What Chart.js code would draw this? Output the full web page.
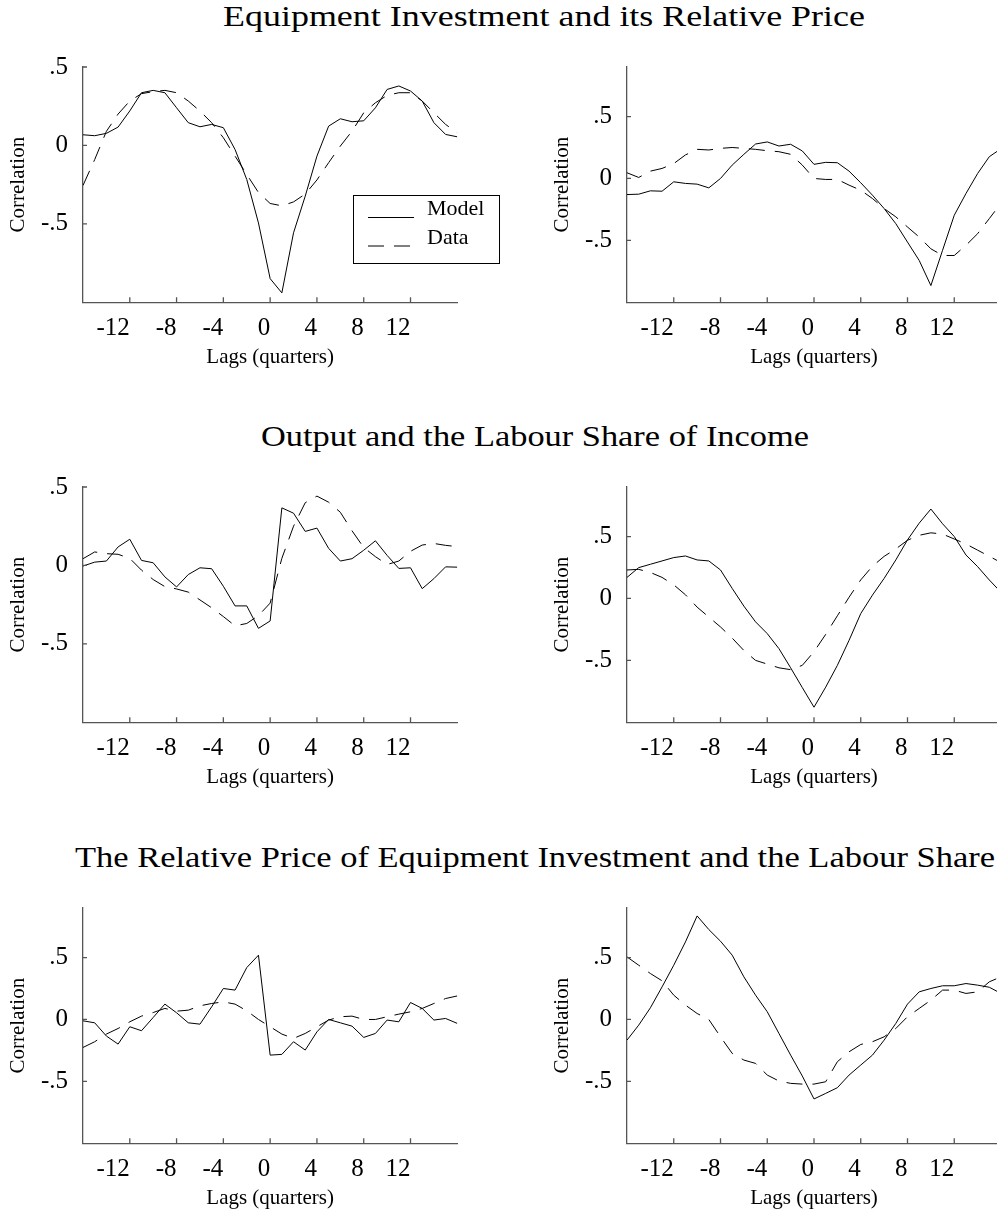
<!DOCTYPE html>
<html>
<head>
<meta charset="utf-8">
<script src="https://cdn.jsdelivr.net/npm/chart.js@4.4.1/dist/chart.umd.min.js"></script>
<style>
html, body { margin: 0; padding: 0; overflow: hidden; background: #fff; }
body { width: 997px; height: 1214px; position: relative; }
.rowtitle { position: absolute; font-family: "Liberation Serif", serif; font-size: 29px; line-height: 29px; white-space: nowrap; transform-origin: 0 0; color: #000; }
canvas { position: absolute; }
</style>
</head>
<body>

<div class="rowtitle" style="left:223px; top:2px" data-w="642">Equipment Investment and its Relative Price</div>
<div class="rowtitle" style="left:261px; top:422px" data-w="548">Output and the Labour Share of Income</div>
<div class="rowtitle" style="left:75px; top:843px" data-w="920">The Relative Price of Equipment Investment and the Labour Share</div>

<canvas id="c1" width="510" height="330" style="left:0; top:50px"></canvas>
<canvas id="c2" width="460" height="330" style="left:544px; top:50px"></canvas>
<canvas id="c3" width="510" height="330" style="left:0; top:470px"></canvas>
<canvas id="c4" width="460" height="330" style="left:544px; top:470px"></canvas>
<canvas id="c5" width="510" height="330" style="left:0; top:891px"></canvas>
<canvas id="c6" width="460" height="330" style="left:544px; top:891px"></canvas>

<script>
// lags in quarters, -16 .. 16
const lags = [-16, -15, -14, -13, -12, -11, -10, -9, -8, -7, -6, -5, -4, -3, -2, -1, 0,
  1, 2, 3, 4, 5, 6, 7, 8, 9, 10, 11, 12, 13, 14, 15, 16];
const xTicks = [-12, -8, -4, 0, 4, 8, 12];
const yTicks = [-0.5, 0, 0.5];
const seriesNames = ['Model', 'Data'];

// equipment investment and its relative price
const row1LeftModel = [0.068, 0.062, 0.077, 0.117, 0.22, 0.336, 0.351, 0.336, 0.24, 0.145, 0.119, 0.134, 0.113, -0.026, -0.217, -0.494,
  -0.849, -0.94, -0.557, -0.323, -0.068, 0.123, 0.17, 0.151, 0.157, 0.24, 0.357, 0.379, 0.347, 0.283, 0.145, 0.07, 0.055];
const row1LeftData = [-0.255, -0.09, 0.09, 0.2, 0.283, 0.33, 0.343, 0.351, 0.336, 0.283, 0.219, 0.145, 0.049, -0.068, -0.185, -0.3,
  -0.37, -0.385, -0.36, -0.31, -0.22, -0.11, -0.004, 0.091, 0.208, 0.272, 0.319, 0.336, 0.336, 0.283, 0.208, 0.134, 0.08];
const row1RightModel = [-0.13, -0.127, -0.1, -0.103, -0.027, -0.04, -0.046, -0.076, 0, 0.108, 0.195, 0.278, 0.295, 0.262, 0.276, 0.222,
  0.114, 0.13, 0.127, 0.059, -0.035, -0.135, -0.243, -0.365, -0.514, -0.662, -0.865, -0.58, -0.297, -0.122, 0.04, 0.176, 0.24];
const row1RightData = [0.046, 0.008, 0.059, 0.081, 0.12, 0.19, 0.235, 0.23, 0.243, 0.25, 0.243, 0.235, 0.224, 0.216, 0.195, 0.108,
  0, -0.008, -0.008, -0.054, -0.095, -0.162, -0.243, -0.31, -0.392, -0.473, -0.568, -0.622, -0.622, -0.54, -0.446, -0.324, -0.2];

// output and the labour share
const row2LeftModel = [-0.004, 0.021, 0.028, 0.118, 0.167, 0.032, 0.017, -0.073, -0.137, -0.058, -0.015, -0.021, -0.133, -0.258, -0.258, -0.401,
  -0.354, 0.367, 0.333, 0.217, 0.238, 0.109, 0.028, 0.043, 0.097, 0.157, 0.064, -0.019, -0.015, -0.148, -0.084, -0.009, -0.011];
const row2LeftData = [0.043, 0.086, 0.075, 0.071, 0.045, -0.03, -0.09, -0.135, -0.15, -0.17, -0.22, -0.27, -0.326, -0.385, -0.37, -0.32,
  -0.24, 0.045, 0.25, 0.4, 0.442, 0.403, 0.339, 0.221, 0.114, 0.056, 0.006, 0.028, 0.09, 0.13, 0.14, 0.128, 0.12];
const row2RightModel = [0.17, 0.249, 0.276, 0.303, 0.33, 0.343, 0.311, 0.303, 0.23, 0.081, -0.062, -0.189, -0.284, -0.405, -0.56, -0.72,
  -0.878, -0.716, -0.54, -0.338, -0.122, 0.027, 0.162, 0.311, 0.473, 0.608, 0.722, 0.603, 0.5, 0.351, 0.257, 0.149, 0.05];
const row2RightData = [0.23, 0.235, 0.21, 0.17, 0.11, 0.03, -0.07, -0.15, -0.23, -0.32, -0.42, -0.5, -0.53, -0.56, -0.575, -0.54,
  -0.43, -0.29, -0.14, 0.01, 0.15, 0.26, 0.34, 0.4, 0.47, 0.51, 0.53, 0.52, 0.48, 0.44, 0.39, 0.34, 0.29];

// relative price of equipment investment and the labour share
const row3LeftModel = [-0.011, -0.027, -0.134, -0.199, -0.059, -0.091, 0.016, 0.124, 0.054, -0.027, -0.038, 0.102, 0.25, 0.237, 0.419, 0.519,
  -0.288, -0.282, -0.18, -0.247, -0.1, 0, -0.027, -0.054, -0.145, -0.113, -0.005, -0.019, 0.137, 0.089, -0.005, 0.008, -0.032];
const row3LeftData = [-0.226, -0.18, -0.118, -0.073, -0.019, 0.027, 0.056, 0.089, 0.067, 0.075, 0.11, 0.129, 0.142, 0.124, 0.07, 0,
  -0.059, -0.118, -0.153, -0.113, -0.059, -0.005, 0.022, 0.027, 0, 0, 0.022, 0.043, 0.062, 0.089, 0.129, 0.169, 0.19];
const row3RightModel = [-0.167, -0.046, 0.094, 0.263, 0.438, 0.626, 0.836, 0.726, 0.632, 0.519, 0.344, 0.196, 0.062, -0.113, -0.288, -0.457,
  -0.642, -0.597, -0.551, -0.449, -0.368, -0.288, -0.167, -0.032, 0.124, 0.223, 0.25, 0.272, 0.272, 0.29, 0.277, 0.26, 0.21];
const row3RightData = [0.505, 0.438, 0.371, 0.312, 0.196, 0.116, 0.048, 0, -0.14, -0.274, -0.328, -0.355, -0.449, -0.497, -0.516, -0.522,
  -0.522, -0.503, -0.341, -0.261, -0.202, -0.18, -0.14, -0.073, 0.022, 0.089, 0.156, 0.237, 0.237, 0.21, 0.223, 0.304, 0.344];

const serif = 'Liberation Serif';
const axisGrey = '#555';

// little tick marks pointing into the plot
const innerTicks = {
  id: 'innerTicks',
  afterDraw(chart) {
    const { ctx, chartArea: a, scales: { x, y } } = chart;
    ctx.save();
    ctx.strokeStyle = axisGrey;
    ctx.lineWidth = 1.3;
    ctx.beginPath();
    x.ticks.forEach(t => {
      const px = x.getPixelForValue(t.value);
      ctx.moveTo(px, a.bottom);
      ctx.lineTo(px, a.bottom - 5);
    });
    y.ticks.forEach(t => {
      const py = y.getPixelForValue(t.value);
      ctx.moveTo(a.left, py);
      ctx.lineTo(a.left + 4, py);
    });
    ctx.stroke();
    ctx.restore();
  }
};

// boxed legend, only in the first panel
const boxLegend = {
  id: 'boxLegend',
  afterDraw(chart, args, opts) {
    if (!opts.show) return;
    const { ctx, chartArea: a } = chart;
    const bx = a.left + 270, by = a.top + 128, bw = 146, bh = 68;
    ctx.save();
    ctx.fillStyle = '#fff';
    ctx.fillRect(bx, by, bw, bh);
    ctx.strokeStyle = '#000';
    ctx.lineWidth = 1;
    ctx.strokeRect(bx + 0.5, by + 0.5, bw, bh);
    chart.data.datasets.forEach((ds, i) => {
      const ly = by + 22.5 + i * 28.5;
      ctx.beginPath();
      ctx.setLineDash(ds.borderDash || []);
      ctx.strokeStyle = ds.borderColor;
      ctx.lineWidth = ds.borderWidth;
      ctx.moveTo(bx + 15, ly);
      ctx.lineTo(bx + 61, ly);
      ctx.stroke();
      ctx.setLineDash([]);
      ctx.fillStyle = '#000';
      ctx.font = '22px "' + serif + '"';
      ctx.textBaseline = 'alphabetic';
      ctx.fillText(ds.label, bx + 74, by + 19.5 + i * 29);
    });
    ctx.restore();
  }
};

function tickText(v) {
  if (v === 0) return '0';
  return (v < 0 ? '-' : '') + String(Math.abs(v)).replace(/^0/, '');
}

function makePanel(id, model, data, yMax, padRight, legend) {
  const el = document.getElementById(id);
  return new Chart(el, {
    type: 'line',
    data: {
      labels: lags,
      datasets: [
        { label: seriesNames[0], data: model, borderColor: '#000', borderWidth: 1, pointRadius: 0, tension: 0 },
        { label: seriesNames[1], data: data, borderColor: '#000', borderWidth: 1, borderDash: [16, 10], pointRadius: 0, tension: 0 }
      ]
    },
    options: {
      responsive: false,
      animation: false,
      events: [],
      layout: { padding: { top: 17, right: padRight, bottom: 0, left: 0 } },
      plugins: {
        legend: { display: false },
        tooltip: { enabled: false },
        boxLegend: { show: legend }
      },
      scales: {
        x: {
          type: 'linear',
          min: -16,
          max: 16,
          afterBuildTicks: s => { s.ticks = xTicks.map(v => ({ value: v })); },
          afterFit: s => { s.height = 77.7; },
          grid: { display: false, drawTicks: false },
          border: { display: true, color: axisGrey, width: 1.3 },
          ticks: { font: { family: serif, size: 25 }, color: '#000', padding: 11, align: 'end', maxRotation: 0, autoSkip: false },
          title: { display: true, text: 'Lags (quarters)', color: '#000', font: { family: serif, size: 21, lineHeight: 1 }, padding: { top: 0, bottom: 12 } }
        },
        y: {
          min: -1,
          max: yMax,
          afterBuildTicks: s => { s.ticks = yTicks.map(v => ({ value: v })); },
          // fixed width, and no extra room above/below for the labels
          afterFit: s => { s.width = 83; s.paddingTop = 0; s.paddingBottom = 0; },
          grid: { display: false, drawTicks: false },
          border: { display: true, color: axisGrey, width: 1.3 },
          ticks: { font: { family: serif, size: 25 }, color: '#000', padding: 15, callback: v => tickText(v) },
          title: { display: true, text: 'Correlation', color: '#000', font: { family: serif, size: 21, lineHeight: 1 }, padding: { top: 8, bottom: 0 } }
        }
      }
    },
    plugins: [innerTicks, boxLegend]
  });
}

makePanel('c1', row1LeftModel, row1LeftData, 0.5, 52.7, true);
makePanel('c2', row1RightModel, row1RightData, 0.9, 3, false);
makePanel('c3', row2LeftModel, row2LeftData, 0.5, 52.7, false);
makePanel('c4', row2RightModel, row2RightData, 0.9, 3, false);
makePanel('c5', row3LeftModel, row3LeftData, 0.9, 52.7, false);
makePanel('c6', row3RightModel, row3RightData, 0.9, 3, false);

// stretch the row titles to the width they have in the picture
document.querySelectorAll('.rowtitle').forEach(t => {
  const w = t.getBoundingClientRect().width;
  t.style.transform = 'scaleX(' + (Number(t.dataset.w) / w) + ')';
});
</script>
</body>
</html>
